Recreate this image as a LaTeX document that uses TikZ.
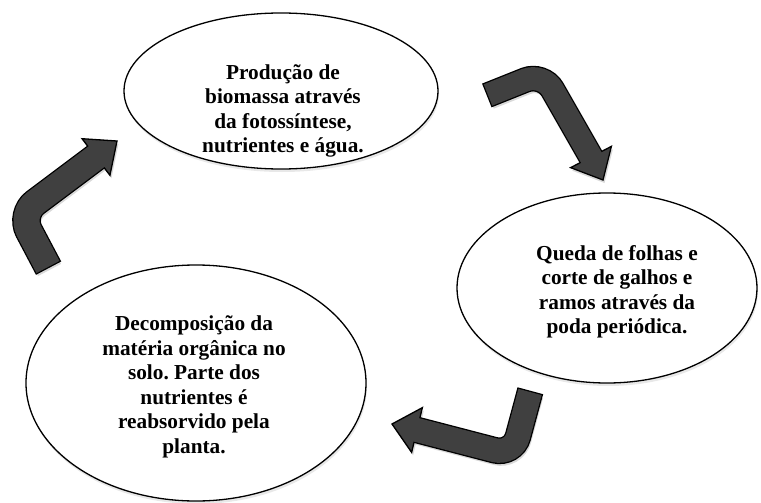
\documentclass[tikz,border=0pt]{standalone}
\usepackage{fontspec}
\setmainfont{Liberation Serif}
\usetikzlibrary{shapes.geometric, calc, shadows}

\definecolor{arrowgray}{RGB}{64,64,64}
\frenchspacing

\begin{document}
\begin{tikzpicture}[
    x=1pt, y=-1pt,
    stage/.style={ellipse, draw, line width=1.3pt, fill=white, minimum width=#1,
        drop shadow={opacity=0.18, shadow xshift=1pt, shadow yshift=-3pt}},
    stagetext/.style={align=center, font=\bfseries\fontsize{21.3}{24.5}\selectfont},
    bandout/.style={line width=#1+2.6pt, black, rounded corners=19pt, shorten <=-1.3pt},
    bandin/.style={line width=#1, arrowgray, rounded corners=19pt, shorten >=-4pt},
    headtip/.style={fill=arrowgray, draw=black, line width=1.3pt, line join=miter},
    arrowshadow/.style={transform canvas={xshift=1.5pt, yshift=-3pt}, opacity=0.15}
]
\useasboundingbox (0,0) rectangle (761,503);

% cycle stages
\node[stage=314pt, minimum height=156pt] (prod) at (281,91) {};
\node[stage=300pt, minimum height=190pt] (queda) at (607,288) {};
\node[stage=340pt, minimum height=236pt] (decomp) at (196,383) {};

\node[stagetext] (prodtxt) at (283,111) {Produção de\\biomassa através\\da fotossíntese,\\nutrientes e água.};
\node[stagetext] (quedatxt) at (617,292) {Queda de folhas e\\corte de galhos e\\ramos através da\\poda periódica.};
\node[stagetext] (decomptxt) at (194,387) {Decomposição da\\matéria orgânica no\\solo. Parte dos\\nutrientes é\\reabsorvido pela\\planta.};

% bent arrows
\coordinate (a1tail) at (48,267);
\coordinate (a1bend) at (20,214);
\coordinate (a1hb) at (96,157);
\coordinate (a1tip) at (117,141);

\coordinate (a2tail) at (488,95);
\coordinate (a2bend) at (543,73);
\coordinate (a2hb) at (591,157);
\coordinate (a2tip) at (603,180);

\coordinate (a3tail) at (530,392);
\coordinate (a3bend) at (513,455);
\coordinate (a3hb) at (417,430);
\coordinate (a3tip) at (392,424);

\begin{scope}[arrowshadow]
\draw[line width=26pt, rounded corners=19pt] (a1tail) -- (a1bend) -- (a1hb);
\fill (a1tip) -- ($(a1hb)!23pt!90:(a1tip)$) -- ($(a1hb)!23pt!-90:(a1tip)$) -- cycle;
\draw[line width=23pt, rounded corners=19pt] (a2tail) -- (a2bend) -- (a2hb);
\fill (a2tip) -- ($(a2hb)!23pt!90:(a2tip)$) -- ($(a2hb)!23pt!-90:(a2tip)$) -- cycle;
\draw[line width=24pt, rounded corners=19pt] (a3tail) -- (a3bend) -- (a3hb);
\fill (a3tip) -- ($(a3hb)!23pt!90:(a3tip)$) -- ($(a3hb)!23pt!-90:(a3tip)$) -- cycle;
\end{scope}

\draw[bandout=26pt] (a1tail) -- (a1bend) -- (a1hb);
\filldraw[headtip] (a1tip) -- ($(a1hb)!23pt!90:(a1tip)$) -- ($(a1hb)!23pt!-90:(a1tip)$) -- cycle;
\draw[bandin=26pt] (a1tail) -- (a1bend) -- (a1hb);

\draw[bandout=23pt] (a2tail) -- (a2bend) -- (a2hb);
\filldraw[headtip] (a2tip) -- ($(a2hb)!23pt!90:(a2tip)$) -- ($(a2hb)!23pt!-90:(a2tip)$) -- cycle;
\draw[bandin=23pt] (a2tail) -- (a2bend) -- (a2hb);

\draw[bandout=24pt] (a3tail) -- (a3bend) -- (a3hb);
\filldraw[headtip] (a3tip) -- ($(a3hb)!23pt!90:(a3tip)$) -- ($(a3hb)!23pt!-90:(a3tip)$) -- cycle;
\draw[bandin=24pt] (a3tail) -- (a3bend) -- (a3hb);

\end{tikzpicture}
\end{document}
